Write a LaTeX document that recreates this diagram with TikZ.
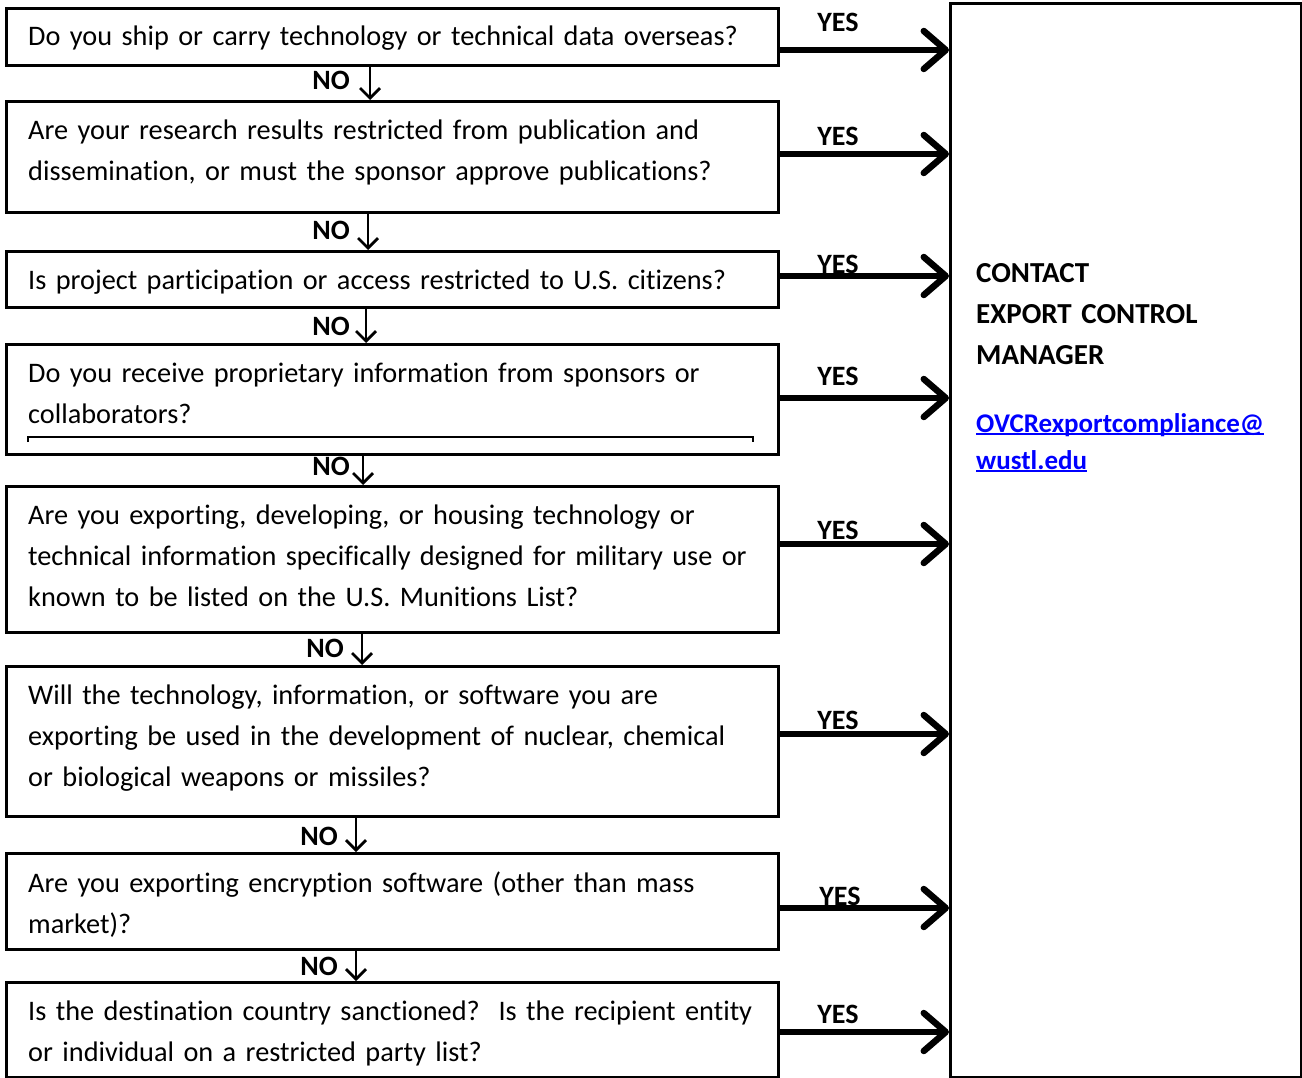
\documentclass[tikz,border=0pt]{standalone}
\usepackage{fontspec}
\setmainfont[Ligatures=NoCommon]{Carlito}
\usetikzlibrary{arrows.meta}
\definecolor{linkblue}{RGB}{0,0,255}
\newcommand\ulink[1]{\leavevmode\setbox0\hbox{#1}\rlap{\rule[-3pt]{\wd0}{2pt}}\box0}
\begin{document}
\begin{tikzpicture}[x=1pt,y=-1pt,
 qbox/.style={draw, line width=3pt, minimum width=772pt, anchor=north west, inner sep=0pt},
 qtext/.style={anchor=base west, inner sep=0pt, text width=760pt, align=left, font=\fontsize{28.3}{41}\selectfont},
 yesarrow/.style={line width=6.5pt, -{Straight Barb[length=22pt,width=38pt,round]}},
 noarrow/.style={line width=2.8pt, -{Straight Barb[length=10pt,width=20pt]}},
 lbl/.style={font=\bfseries\fontsize{28}{30}\selectfont, inner sep=0pt},
]
\useasboundingbox (0,0) rectangle (1302,1078);
% question boxes
\node[qbox, minimum height=57pt]  (b1) at (5,7)   {};
\node[qbox, minimum height=111pt] (b2) at (5,100) {};
\node[qbox, minimum height=56pt]  (b3) at (5,250) {};
\node[qbox, minimum height=110pt] (b4) at (5,343) {};
\node[qbox, minimum height=146pt] (b5) at (5,485) {};
\node[qbox, minimum height=150pt] (b6) at (5,665) {};
\node[qbox, minimum height=96pt]  (b7) at (5,852) {};
\node[qbox, minimum height=95pt]  (b8) at (5,981) {};
\node[draw, line width=3pt, minimum width=351pt, minimum height=1074pt, anchor=north west, inner sep=0pt] (contact) at (949,2) {};
% question texts
\node[qtext] (t1) at (28,46)  {Do you ship or carry technology or technical data overseas?};
\node[qtext] (t2) at (28,140) {Are your research results restricted from publication and\\dissemination, or must the sponsor approve publications?};
\node[qtext] (t3) at (28,290) {Is project participation or access restricted to U.S. citizens?};
\node[qtext] (t4) at (28,382) {Do you receive proprietary information from sponsors or\\collaborators?};
\node[qtext] (t5) at (28,524) {Are you exporting, developing, or housing technology or\\technical information specifically designed for military use or\\known to be listed on the U.S. Munitions List?};
\node[qtext] (t6) at (28,704) {Will the technology, information, or software you are\\exporting be used in the development of nuclear, chemical\\or biological weapons or missiles?};
\node[qtext] (t7) at (28,892) {Are you exporting encryption software (other than mass\\market)?};
\node[qtext] (t8) at (28,1020) {Is the destination country sanctioned?\ \ Is the recipient entity\\or individual on a restricted party list?};
% inner line in box 4
\draw[line width=1.2pt] (28,442) -- (28,437) -- (753,437) -- (753,442);
% contact text
\node[anchor=base west, inner sep=0pt, text width=320pt, align=left, font=\bfseries\fontsize{29}{41}\selectfont] (ct) at (976,283) {CONTACT\\EXPORT CONTROL\\MANAGER};
\node[anchor=base west, inner sep=0pt, text width=320pt, align=left, text=linkblue, font=\bfseries\fontsize{27}{37}\selectfont] (mail) at (976,432) {\ulink{OVCRexportcompliance@}\\\ulink{wustl.edu}};
% YES arrows
\draw[yesarrow] (b1.east |- 0,50)   -- (contact.west |- 0,50);
\draw[yesarrow] (b2.east |- 0,154)  -- (contact.west |- 0,154);
\draw[yesarrow] (b3.east |- 0,276)  -- (contact.west |- 0,276);
\draw[yesarrow] (b4.east |- 0,398)  -- (contact.west |- 0,398);
\draw[yesarrow] (b5.east |- 0,544)  -- (contact.west |- 0,544);
\draw[yesarrow] (b6.east |- 0,734)  -- (contact.west |- 0,734);
\draw[yesarrow] (b7.east |- 0,908)  -- (contact.west |- 0,908);
\draw[yesarrow] (b8.east |- 0,1032) -- (contact.west |- 0,1032);
\node[lbl] (y1) at (838,22)   {YES};
\node[lbl] (y2) at (838,136)  {YES};
\node[lbl] (y3) at (838,264)  {YES};
\node[lbl] (y4) at (838,376)  {YES};
\node[lbl] (y5) at (838,530)  {YES};
\node[lbl] (y6) at (838,720)  {YES};
\node[lbl] (y7) at (840,896)  {YES};
\node[lbl] (y8) at (838,1014) {YES};
% NO arrows
\draw[noarrow] (b1.south -| 370,0) -- (b2.north -| 370,0);
\draw[noarrow] (b2.south -| 368,0) -- (b3.north -| 368,0);
\draw[noarrow] (b3.south -| 366,0) -- (b4.north -| 366,0);
\draw[noarrow] (b4.south -| 363,0) -- (b5.north -| 363,0);
\draw[noarrow] (b5.south -| 362,0) -- (b6.north -| 362,0);
\draw[noarrow] (b6.south -| 356,0) -- (b7.north -| 356,0);
\draw[noarrow] (b7.south -| 356,0) -- (b8.north -| 356,0);
\node[lbl] (n1) at (331,80)  {NO};
\node[lbl] (n2) at (331,230) {NO};
\node[lbl] (n3) at (331,326) {NO};
\node[lbl] (n4) at (331,466) {NO};
\node[lbl] (n5) at (325,648) {NO};
\node[lbl] (n6) at (319,836) {NO};
\node[lbl] (n7) at (319,966) {NO};
\end{tikzpicture}
\end{document}
